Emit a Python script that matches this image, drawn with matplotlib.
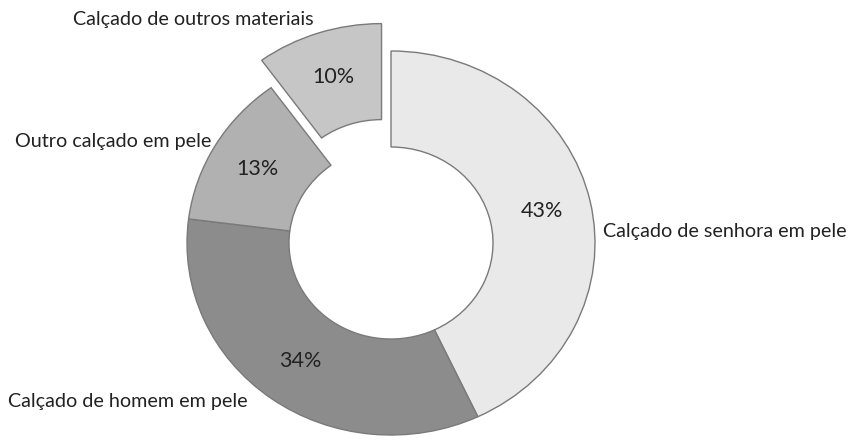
import matplotlib
matplotlib.use("Agg")
import matplotlib.pyplot as plt

# Footwear share by category
categories = [
    "Calçado de senhora em pele",
    "Calçado de homem em pele",
    "Outro calçado em pele",
    "Calçado de outros materiais",
]
shares = [43, 34, 13, 10]
explode = [0, 0, 0, 0.15]
colors = ["#e9e9e9", "#8c8c8c", "#b1b1b1", "#c6c6c6"]

W, H = 849, 443
fig = plt.figure(figsize=(W / 100, H / 100), dpi=100)
ax = fig.add_axes([0, 0, 1, 1])

wedges, texts, autotexts = ax.pie(
    shares,
    explode=explode,
    colors=colors,
    startangle=90,
    counterclock=False,
    radius=1.0,
    autopct="%.0f%%",
    pctdistance=0.76,
    wedgeprops=dict(width=0.5, edgecolor="#7a7a7a", linewidth=1.0),
    textprops=dict(fontsize=15.5, color="#222222", family="Lato"),
)

# Donut centre at (391, 243) px; radius 204 px wide, 192 px tall
cx, cy, rx, ry = 391, 243, 204, 192
ax.set_aspect("auto")
ax.set_xlim(-cx / rx, (W - cx) / rx)
ax.set_ylim(-(H - cy) / ry, cy / ry)
ax.axis("off")

# Category labels placed around the ring (pixel positions, left-aligned)
label_pos = {
    "Calçado de senhora em pele": (603, 232),
    "Calçado de homem em pele": (8, 402),
    "Outro calçado em pele": (15, 142),
    "Calçado de outros materiais": (73, 20),
}
for name in categories:
    px, py = label_pos[name]
    fig.text(px / W, 1 - py / H, name, ha="left", va="center",
             fontsize=14.2, color="#222222", family="Lato")

fig.savefig("out.png", dpi=100)
